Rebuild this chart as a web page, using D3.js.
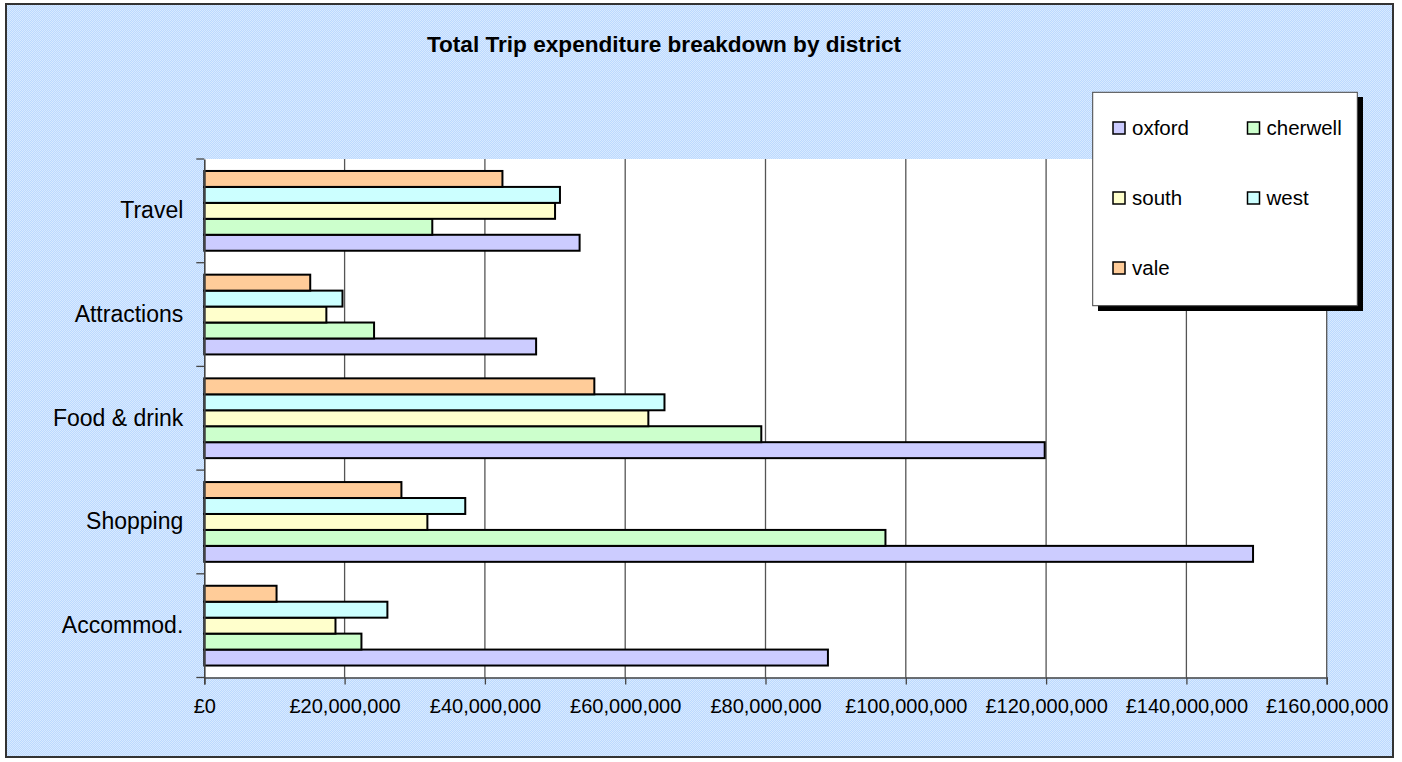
<!DOCTYPE html>
<html>
<head>
<meta charset="utf-8">
<script src="https://cdn.jsdelivr.net/npm/d3@7"></script>
<style>
  body { margin: 0; background: #fff; }
  text { font-family: "Liberation Sans", Arial, sans-serif; fill: #000; }
</style>
</head>
<body>
<script>
// categories, top to bottom as drawn
var categories = ['Travel', 'Attractions', 'Food & drink', 'Shopping', 'Accommod.'];
var districts = ['oxford', 'cherwell', 'south', 'west', 'vale'];

// values in pounds, same order as categories
var oxford   = [53500000, 47300000, 119800000, 149500000, 88900000];
var cherwell = [32500000, 24200000,  79400000,  97100000, 22400000];
var south    = [50000000, 17400000,  63300000,  31800000, 18700000];
var west     = [50700000, 19700000,  65600000,  37200000, 26100000];
var vale     = [42500000, 15100000,  55600000,  28100000, 10300000];

var xTicks = [0, 20000000, 40000000, 60000000, 80000000, 100000000, 120000000, 140000000, 160000000];
var colors = ['#ccccff', '#ccffcc', '#ffffcc', '#ccffff', '#ffcc99'];

var series = [oxford, cherwell, south, west, vale];

var width = 1402, height = 762;
var plot = {left: 204.3, right: 1326.7, top: 159, bottom: 677.5};

var svg = d3.select('body').append('svg')
  .attr('width', width)
  .attr('height', height);

// checkered background
var pat = svg.append('defs').append('pattern')
  .attr('id', 'chk')
  .attr('width', 2).attr('height', 2)
  .attr('patternUnits', 'userSpaceOnUse');
pat.append('rect').attr('width', 2).attr('height', 2).attr('fill', '#bcd9ff');
pat.append('rect').attr('width', 1).attr('height', 1).attr('fill', '#d8eaff');
pat.append('rect').attr('x', 1).attr('y', 1).attr('width', 1).attr('height', 1).attr('fill', '#d8eaff');

svg.append('rect')
  .attr('x', 6).attr('y', 4)
  .attr('width', 1387).attr('height', 753)
  .attr('fill', 'url(#chk)')
  .attr('stroke', '#333')
  .attr('stroke-width', 2);

svg.append('text')
  .attr('x', 664).attr('y', 52)
  .attr('text-anchor', 'middle')
  .style('font-size', '22.6px')
  .style('font-weight', 'bold')
  .text('Total Trip expenditure breakdown by district');

// plot area
svg.append('rect')
  .attr('x', plot.left).attr('y', plot.top)
  .attr('width', plot.right - plot.left)
  .attr('height', plot.bottom - plot.top)
  .attr('fill', '#fff');

var x = d3.scaleLinear().domain([0, 160000000]).range([plot.left, plot.right]);
var y = d3.scaleBand().domain(categories).range([plot.top, plot.bottom]);
var inner = d3.scaleBand()
  .domain(['vale', 'west', 'south', 'cherwell', 'oxford'])
  .range([0, y.bandwidth()])
  .paddingOuter(0.75);

// gridlines
svg.append('g').selectAll('line')
  .data(xTicks.slice(1))
  .enter().append('line')
  .attr('x1', function(d) { return x(d); })
  .attr('x2', function(d) { return x(d); })
  .attr('y1', plot.top).attr('y2', plot.bottom)
  .attr('stroke', '#555')
  .attr('stroke-width', 1.3);

// bars
var groups = svg.append('g').selectAll('g')
  .data(categories)
  .enter().append('g')
  .attr('transform', function(d) { return 'translate(0,' + y(d) + ')'; });

groups.selectAll('rect')
  .data(function(c, i) {
    return districts.map(function(name, j) {
      return {name: name, value: series[j][i], color: colors[j]};
    });
  })
  .enter().append('rect')
  .attr('x', x(0))
  .attr('y', function(d) { return inner(d.name); })
  .attr('width', function(d) { return x(d.value) - x(0); })
  .attr('height', inner.bandwidth())
  .attr('fill', function(d) { return d.color; })
  .attr('stroke', '#000')
  .attr('stroke-width', 2);

// x axis
var xAxis = svg.append('g')
  .attr('transform', 'translate(0,' + plot.bottom + ')')
  .call(d3.axisBottom(x)
    .tickValues(xTicks)
    .tickSize(7)
    .tickPadding(14)
    .tickFormat(function(d) { return '\u00a3' + d3.format(',')(d); }));
xAxis.select('.domain').attr('stroke', '#444').attr('stroke-width', 1.6);
xAxis.selectAll('.tick line').attr('stroke', '#444').attr('stroke-width', 1.3);
xAxis.selectAll('text')
  .style('font-family', '"Liberation Sans", Arial, sans-serif')
  .style('font-size', '20px')
  .attr('fill', '#000');

// y axis
var yAxis = svg.append('g')
  .attr('transform', 'translate(' + plot.left + ',0)')
  .call(d3.axisLeft(y).tickSize(0).tickPadding(21));
yAxis.select('.domain').attr('stroke', '#444').attr('stroke-width', 1.6);
yAxis.selectAll('text')
  .style('font-family', '"Liberation Sans", Arial, sans-serif')
  .style('font-size', '23px')
  .attr('fill', '#000');

// category boundary ticks
var bounds = categories.map(function(c) { return y(c); }).concat([plot.bottom]);
svg.append('g').selectAll('line')
  .data(bounds)
  .enter().append('line')
  .attr('x1', plot.left - 8).attr('x2', plot.left)
  .attr('y1', function(d) { return d; })
  .attr('y2', function(d) { return d; })
  .attr('stroke', '#444')
  .attr('stroke-width', 1.3);

// legend
var lg = svg.append('g');
lg.append('rect')
  .attr('x', 1098).attr('y', 97)
  .attr('width', 265).attr('height', 214)
  .attr('fill', '#000');
lg.append('rect')
  .attr('x', 1092.7).attr('y', 92.3)
  .attr('width', 264.6).attr('height', 213.4)
  .attr('fill', '#fff')
  .attr('stroke', '#444')
  .attr('stroke-width', 1);

var items = lg.selectAll('g.item')
  .data(districts)
  .enter().append('g')
  .attr('class', 'item')
  .attr('transform', function(d, i) {
    return 'translate(' + (i % 2 === 0 ? 1113 : 1247.5) + ',' + (128 + Math.floor(i / 2) * 70) + ')';
  });
items.append('rect')
  .attr('x', 0).attr('y', -6)
  .attr('width', 12).attr('height', 12)
  .attr('fill', function(d, i) { return colors[i]; })
  .attr('stroke', '#000')
  .attr('stroke-width', 1.5);
items.append('text')
  .attr('x', 19).attr('y', 7)
  .style('font-size', '20.5px')
  .text(function(d) { return d; });
</script>
</body>
</html>
